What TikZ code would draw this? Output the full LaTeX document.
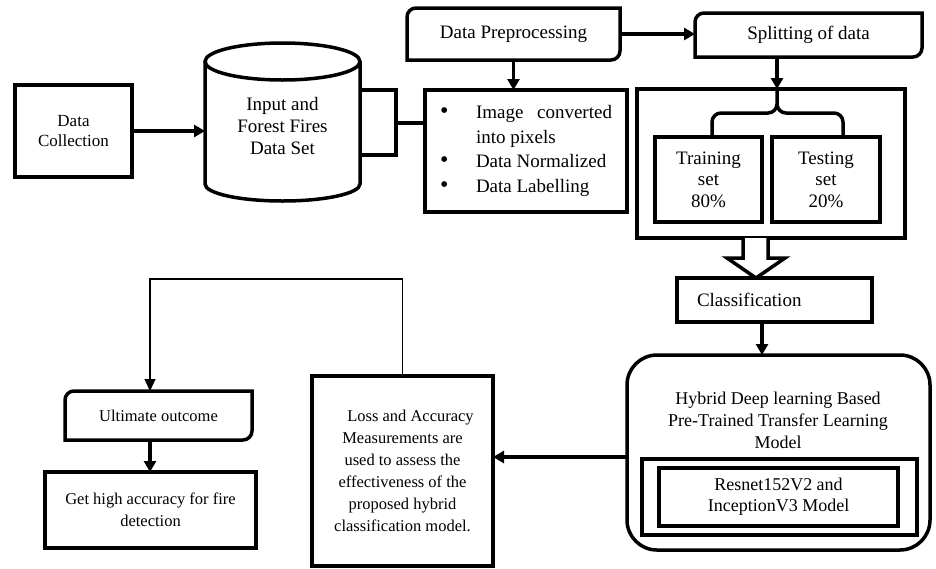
\documentclass[tikz,border=0pt]{standalone}
\usepackage{fontspec}
\setmainfont{Liberation Serif}
\usetikzlibrary{arrows.meta,calc}
\tikzset{
  bx/.style={inner sep=0pt, outer sep=0pt, align=center},
  thk/.style={line width=3.5pt},
  rbox/.style={bx, draw, line width=3.5pt},
  arr/.style={line width=3.5pt, -{Triangle[length=11pt,width=12pt]}},
  thinarr/.style={line width=1.2pt, -{Triangle[length=12pt,width=11pt]}},
}
\newcommand\fs[2]{\fontsize{#1}{#2}\selectfont}
\newcommand\bul{\makebox[36pt][l]{\fs{24}{24.5}\textbullet}}
\newcommand\diagbox[1]{\draw[thk] (#1.south west) -- ([yshift=-9pt]#1.north west) arc[start angle=180,end angle=90,radius=9pt] -- (#1.north east) -- ([yshift=9pt]#1.south east) arc[start angle=0,end angle=-90,radius=9pt] -- cycle;}
\begin{document}
\begin{tikzpicture}[x=1pt,y=-1pt]
\useasboundingbox (0,0) rectangle (936,568);

% Data collection
\node[rbox, minimum width=117pt, minimum height=92pt, font=\fs{17}{20}] (dc) at (73.5,131) {Data\\Collection};

% Cylinder
\node[bx, minimum width=155pt, minimum height=159pt, font=\fs{19}{22}] (ds) at (282.5,126) {Input and\\Forest Fires\\Data Set};
\draw[thk] (205,61.5) -- (205,184) arc[start angle=180,end angle=360,x radius=77.5pt,y radius=17pt] -- (360,61.5);
\draw[thk] (282.5,61.5) ellipse[x radius=77.5pt,y radius=18.5pt];

% Preprocessing
\node[bx, minimum width=213pt, minimum height=52pt, font=\fs{19}{22}] (dp) at (513.5,34) {Data Preprocessing};
\diagbox{dp}

% Bullet box
\node[rbox, minimum width=202pt, minimum height=122pt, font=\fs{19}{24.5}] (bl) at (526,151) {\parbox{172pt}{\raggedright
\bul\makebox[136pt][s]{Image\hfill converted}\\
\hspace*{36pt}into pixels\\
\bul Data Normalized\\
\bul Data Labelling}};

% Bracket from cylinder
\coordinate (brk) at (396,123);
\draw[thk] (360,90) -- (396,90) -- (396,155) -- (360,155);
\draw[thk] (brk) -- (brk -| bl.west);

\draw[arr] (dc.east) -- (dc.east -| ds.west);

% Splitting
\node[bx, minimum width=227pt, minimum height=44pt, font=\fs{19}{22}] (sp) at (808.5,35) {Splitting of data};
\diagbox{sp}
\draw[arr] (dp.east) -- (dp.east -| sp.west);
\draw[arr] (dp.south) -- (dp.south |- bl.north);

% Big box
\node[rbox, minimum width=268pt, minimum height=149pt] (bb) at (771,163.5) {};
\coordinate (btip) at (777,89);
\draw[arr] (btip |- sp.south) -- (btip);
\node[rbox, minimum width=107pt, minimum height=85pt, font=\fs{19}{21.5}] (tr) at (708.5,179.5) {Training\\set\\80\%};
\node[rbox, minimum width=108pt, minimum height=85pt, font=\fs{19}{21.5}] (te) at (826,179.5) {Testing\\set\\20\%};
\draw[thk] (712,137) -- (712,122) arc[start angle=180,end angle=90,radius=9pt] -- (768,113) arc[start angle=-90,end angle=0,radius=9pt] -- (777,89);
\draw[thk] (843,137) -- (843,122) arc[start angle=0,end angle=90,radius=9pt] -- (786,113) arc[start angle=270,end angle=180,radius=9pt] -- (777,104);

% Classification
\node[rbox, minimum width=195pt, minimum height=44pt, text width=155pt, align=left, font=\fs{19}{22}] (cl) at (774.5,300) {Classification};
\draw[thk, fill=white, line join=miter] (743,238) -- (743,258) -- (727,258) -- (756,278) -- (785,258) -- (768,258) -- (768,238);

% Hybrid
\node[bx, draw, line width=3.5pt, rounded corners=30pt, minimum width=303pt, minimum height=195pt] (hy) at (778.5,452.5) {};
\node[bx, font=\fs{18}{22}] (hyt) at (778,420) {Hybrid Deep learning Based\\Pre-Trained Transfer Learning\\Model};
\node[rbox, minimum width=275pt, minimum height=76pt] (rso) at (779.5,497) {};
\node[rbox, minimum width=239pt, minimum height=58pt, font=\fs{18}{21}] (rs) at (778.5,497) {Resnet152V2 and\\InceptionV3 Model};
\coordinate (clhy) at (762,300);
\draw[arr] (clhy |- cl.south) -- (clhy |- hy.north);

% Loss box
\node[rbox, minimum width=181pt, minimum height=190pt, font=\fs{16.5}{22}] (lo) at (402.5,471) {\hspace*{16pt}Loss and Accuracy\\Measurements are\\used to assess the\\effectiveness of the\\proposed hybrid\\classification model.};
\coordinate (hylo) at (600,457);
\draw[arr] (hylo -| hy.west) -- (hylo -| lo.east);

% Ultimate outcome
\node[bx, minimum width=187pt, minimum height=49pt, font=\fs{16.5}{20}] (ul) at (158.5,415.5) {Ultimate outcome};
\diagbox{ul}
\node[rbox, minimum width=211pt, minimum height=76pt, font=\fs{16.5}{22}] (gh) at (150.5,510) {Get high accuracy for fire\\detection};
\coordinate (fb) at (150,279);
\draw[thinarr] (lo.north) -- (lo.north |- fb) -- (fb) -- (fb |- ul.north);
\draw[arr] (fb |- ul.south) -- (fb |- gh.north);
\end{tikzpicture}
\end{document}
